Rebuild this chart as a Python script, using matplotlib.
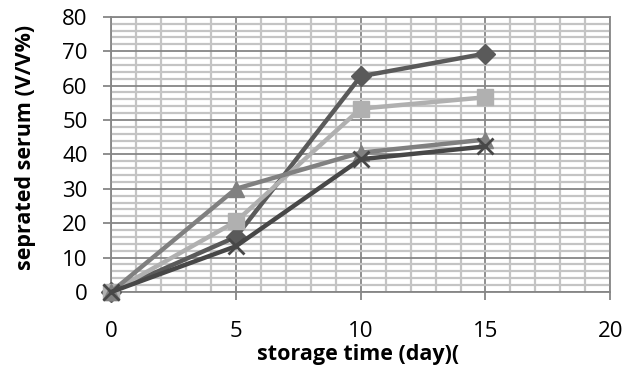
import matplotlib.pyplot as plt
from matplotlib.ticker import MultipleLocator

plt.rcParams['font.family'] = ['Open Sans', 'DejaVu Sans']

# data
days = [0, 5, 10, 15]
serum_a = [0, 16, 62.7, 69.3]   # diamond
serum_b = [0, 20.5, 53.3, 56.6]  # square
serum_c = [0, 30, 40.5, 44.3]    # triangle
serum_d = [0, 13.3, 38.6, 42.3]  # cross

fig = plt.figure(figsize=(6.35, 3.76), dpi=100)
ax = fig.add_axes([0.175, 0.2234, 0.786, 0.732])

ax.plot(days, serum_a, color='#5a5a5a', lw=3.2, marker='D', ms=10, zorder=3, clip_on=False)
ax.plot(days, serum_b, color='#b0b0b0', lw=3.2, marker='s', ms=12, zorder=3, clip_on=False)
ax.plot(days, serum_c, color='#808080', lw=3.2, marker='^', ms=12, zorder=3, clip_on=False)
ax.plot(days, serum_d, color='#474747', lw=3.2, marker='x', ms=12, mew=2, zorder=3, clip_on=False)

ax.set_xlim(0, 20)
ax.set_ylim(0, 80)
ax.xaxis.set_major_locator(MultipleLocator(5))
ax.xaxis.set_minor_locator(MultipleLocator(1))
ax.yaxis.set_major_locator(MultipleLocator(10))
ax.yaxis.set_minor_locator(MultipleLocator(2))

# grid
ax.grid(which='major', color='#868686', lw=1.3)
ax.grid(which='minor', color='#c4c4c4', lw=1.6)
ax.set_axisbelow(True)

for s in ax.spines.values():
    s.set_color('#868686')
    s.set_linewidth(1.3)

ax.tick_params(which='major', length=6, width=1.3, color='#868686', labelsize=16)
ax.tick_params(axis='x', which='major', pad=15)
ax.tick_params(axis='y', which='major', pad=11)
ax.tick_params(which='minor', length=0)

fig.text(0.564, 0.058, 'storage time (day)(', fontsize=15.5, fontweight='bold',
         ha='center', va='center')
fig.text(0.04, 0.609, 'seprated serum (V/V%)', fontsize=15.5, fontweight='bold',
         ha='center', va='center', rotation=90)

plt.savefig('out.png', dpi=100)
